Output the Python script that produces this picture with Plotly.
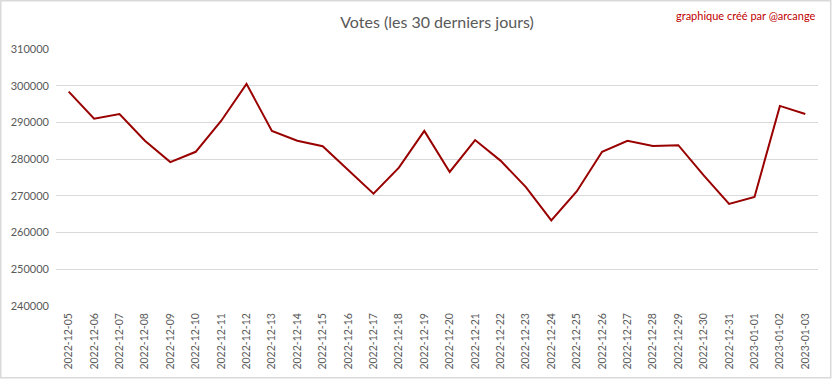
import plotly.graph_objects as go

dates = ["2022-12-05", "2022-12-06", "2022-12-07", "2022-12-08", "2022-12-09",
         "2022-12-10", "2022-12-11", "2022-12-12", "2022-12-13", "2022-12-14",
         "2022-12-15", "2022-12-16", "2022-12-17", "2022-12-18", "2022-12-19",
         "2022-12-20", "2022-12-21", "2022-12-22", "2022-12-23", "2022-12-24",
         "2022-12-25", "2022-12-26", "2022-12-27", "2022-12-28", "2022-12-29",
         "2022-12-30", "2022-12-31", "2023-01-01", "2023-01-02", "2023-01-03"]
votes = [298400, 291000, 292300, 285000, 279200,
         282000, 290400, 300500, 287700, 285000,
         283500, 277000, 270600, 277700, 287700,
         276500, 285200, 279600, 272400, 263300,
         271200, 282000, 285000, 283600, 283800,
         275600, 267800, 269700, 294500, 292300]
y_ticks = [240000, 250000, 260000, 270000, 280000, 290000, 300000, 310000]

W, H = 832, 379
ml, mr, mt, mb = 56, 14, 49, 73
pw, ph = W - ml - mr, H - mt - mb

fig = go.Figure()
fig.add_trace(go.Scatter(x=dates, y=votes, mode="lines",
                         line=dict(color="#990000", width=2)))

grey = "#595959"
fig.update_layout(
    width=W, height=H,
    margin=dict(l=ml, r=mr, t=mt, b=mb, autoexpand=False),
    paper_bgcolor="white", plot_bgcolor="white",
    showlegend=False,
    font=dict(family="Lato, Open Sans, sans-serif", color=grey, size=11),
    title=dict(text="Votes (les 30 derniers jours)", x=0.5, xanchor="center",
               xref="paper", yref="container",
               y=1 - 22 / H, yanchor="middle", automargin=False,
               font=dict(size=16, color=grey)),
    xaxis=dict(type="category", range=[-0.5, len(dates) - 0.5],
               tickangle=-90, showgrid=False, showline=False, zeroline=False,
               ticks="", automargin=False, ticklabelstandoff=4,
               tickfont=dict(size=10.5, color=grey)),
    yaxis=dict(range=[y_ticks[0], y_ticks[-1]], tickvals=y_ticks,
               tickformat="d", showgrid=True, gridcolor="#d9d9d9",
               gridwidth=1, zeroline=False, showline=False, ticks="",
               automargin=False, ticklabelstandoff=6,
               tickfont=dict(size=11, color=grey)),
    annotations=[dict(text="graphique créé par @arcange", xref="paper",
                      yref="paper", x=(W - 14 - ml) / pw, y=(H - 15 - mb) / ph,
                      xanchor="right", yanchor="middle", showarrow=False,
                      font=dict(size=11, color="#c00000"))],
    shapes=[dict(type="rect", xref="paper", yref="paper",
                 x0=(0.75 - ml) / pw, x1=(W - 1.25 - ml) / pw,
                 y0=(1.25 - mb) / ph, y1=(H - 0.75 - mb) / ph,
                 line=dict(color="#d9d9d9", width=1.5), layer="below")],
)

fig.write_html("out.html",
               config={"displayModeBar": False},
               post_script="document.body.style.margin='0';"
                           "document.body.style.overflow='hidden';")
